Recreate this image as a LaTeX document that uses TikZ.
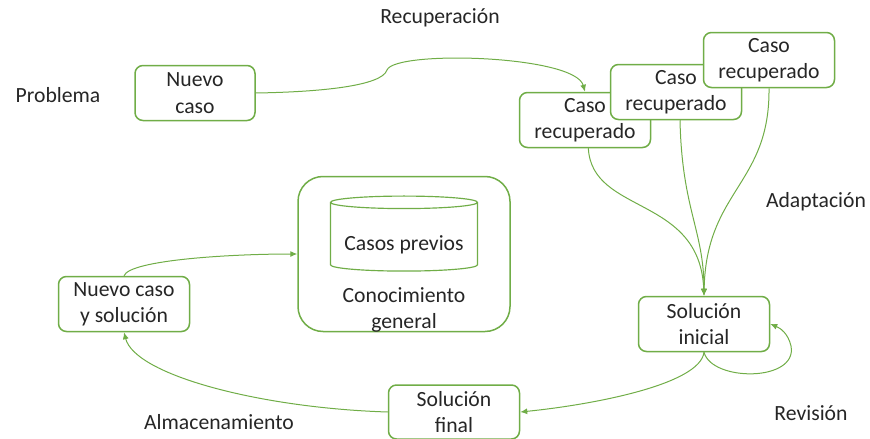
\documentclass[tikz,border=0pt]{standalone}
\usepackage{fontspec}
\setmainfont{Carlito}
\usepackage{tikz}
\usetikzlibrary{arrows.meta,shapes.geometric}
\definecolor{cbrgreen}{RGB}{112,173,71}
\definecolor{cbrtext}{RGB}{38,38,38}
\tikzset{
  cbrbox/.style={draw=cbrgreen, line width=0.45mm, rounded corners=2.4mm, fill=white,
    align=center, inner sep=0pt, minimum width=39.3mm, minimum height=16.5mm, text=cbrtext},
  cbrlink/.style={draw=cbrgreen, line width=0.3mm, -{Latex[length=2.1mm,width=1.8mm]}},
  cbrlabel/.style={text=cbrtext, inner sep=0pt}
}

\begin{document}
\begin{tikzpicture}[x=0.3mm, y=-0.3mm, font=\fontsize{18.5}{22.5}\selectfont]
  \useasboundingbox (0,0) rectangle (870,439);
  % Stage labels
  \node[cbrlabel] (lprob) at (58,95) {Problema};
  \node[cbrlabel] (lrecu) at (440,18) {Recuperación};
  \node[cbrlabel] (ladap) at (816,202) {Adaptación};
  \node[cbrlabel] (lrevi) at (811,413) {Revisión};
  \node[cbrlabel] (lalma) at (219,422) {Almacenamiento};
  % New case and retrieved cases (last one on top)
  \node[cbrbox, minimum width=36mm] (nuevo) at (195,93) {Nuevo\\caso};
  \node[cbrbox] (rec1) at (585,120) {Caso\\recuperado};
  \node[cbrbox] (rec2) at (676,92) {Caso\\recuperado};
  \node[cbrbox] (rec3) at (769,60) {Caso\\recuperado};
  % Solutions
  \node[cbrbox] (ini) at (704,324) {Solución\\inicial};
  \node[cbrbox, minimum height=16.2mm] (fin) at (454,412) {Solución\\final};
  \node[cbrbox] (nys) at (124,304) {Nuevo caso\\y solución};
  % General knowledge with the case base
  \node[cbrbox, rounded corners=7.5mm, minimum width=63.6mm, minimum height=46.5mm] (conoc) at (404,254) {};
  \node[cylinder, shape border rotate=90, draw=cbrgreen, line width=0.35mm, aspect=1.6,
    minimum width=44.1mm, minimum height=22.5mm, text=cbrtext] (base) at (404,238) {};
  \node[cbrlabel] (tbase) at (404,245) {Casos previos};
  \node[cbrlabel, align=center] (tconoc) at (404,310) {Conocimiento\\general};
  % Retrieval
  \draw[cbrlink] (nuevo.east) .. controls (320,92) and (382,86) .. (387,70)
    .. controls (395,50) and (575,55) .. (rec1.north);
  % Adaptation
  \draw[cbrlink] ([xshift=1mm]rec1.south) .. controls (592,215) and (700,195) .. (ini.north);
  \draw[cbrlink] ([xshift=1.2mm]rec2.south) .. controls (682,210) and (704,230) .. (ini.north);
  \draw[cbrlink] (rec3.south) .. controls (770,185) and (706,190) .. (ini.north);
  % Revision
  \draw[cbrlink] (ini.south) .. controls (712,382) and (798,382) .. (791,346)
    .. controls (788,333) and (780,328) .. (ini.east);
  \draw[cbrlink] (ini.south) .. controls (700,385) and (590,405) .. (fin.east);
  % Retention
  \draw[cbrlink] (fin.west) .. controls (260,408) and (135,375) .. (nys.south);
  \draw[cbrlink] (nys.north) .. controls (130,260) and (230,254) .. (conoc.west);
\end{tikzpicture}
\end{document}
